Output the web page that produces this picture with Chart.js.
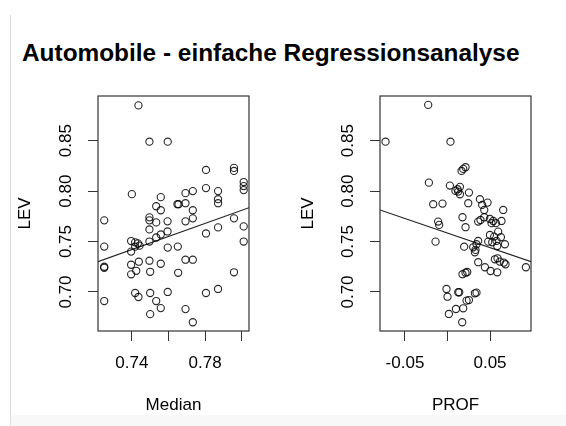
<!DOCTYPE html>
<html>
<head>
<meta charset="utf-8">
<script src="https://cdn.jsdelivr.net/npm/chart.js@4/dist/chart.umd.min.js"></script>
<style>
  html, body { margin: 0; padding: 0; background: #fff; }
  #wrap { position: relative; width: 566px; height: 426px; overflow: hidden; }
  #edge { position: absolute; left: 10px; top: 15px; width: 1px; height: 411px; background: #ddd; }
  #foot { position: absolute; left: 11px; top: 415px; width: 555px; height: 11px; background: #f8f8f8; }
  #title { position: absolute; left: 22px; top: 39px; font: bold 24.4px "Liberation Sans", Arial, sans-serif; line-height: 28px; color: #000; white-space: nowrap; }
  canvas { position: absolute; top: 0; }
</style>
</head>
<body>
<div id="wrap">
  <div id="edge"></div>
  <div id="foot"></div>
  <div id="title">Automobile - einfache Regressionsanalyse</div>
  <canvas id="leftChart" width="283" height="426" style="left:0"></canvas>
  <canvas id="rightChart" width="283" height="426" style="left:283px"></canvas>
</div>
<script>
// left panel: LEV against Median
const medianX = [0.7436,0.7496,0.7596,0.7805,0.7958,0.7958,0.7400,0.7805,0.8011,0.8011,
  0.8011,0.7871,0.7871,0.7871,0.7693,0.7733,0.7558,0.7533,0.7558,0.7649,
  0.7655,0.7693,0.7733,0.7733,0.7693,0.7496,0.7496,0.7533,0.7595,0.7249,
  0.7496,0.7595,0.7558,0.7533,0.7496,0.7805,0.7871,0.7958,0.8011,0.8011,
  0.7249,0.7396,0.7418,0.7433,0.7442,0.7418,0.7396,0.7596,0.7651,0.7249,
  0.7249,0.7396,0.7438,0.7424,0.7396,0.7496,0.7500,0.7558,0.7693,0.7733,
  0.7653,0.7958,0.7249,0.7418,0.7436,0.7500,0.7533,0.7596,0.7558,0.7500,
  0.7693,0.7733,0.7805,0.7871];
const levLeft = [0.885,0.849,0.849,0.821,0.823,0.820,0.797,0.803,0.809,0.805,
  0.801,0.800,0.792,0.788,0.798,0.800,0.794,0.785,0.781,0.787,
  0.787,0.788,0.781,0.773,0.770,0.774,0.771,0.769,0.770,0.771,
  0.762,0.760,0.757,0.754,0.750,0.758,0.764,0.773,0.765,0.750,
  0.745,0.7505,0.7492,0.7482,0.7459,0.7449,0.740,0.744,0.745,0.725,
  0.724,0.727,0.730,0.721,0.7175,0.731,0.720,0.728,0.732,0.732,
  0.719,0.7195,0.691,0.699,0.695,0.699,0.691,0.700,0.684,0.678,
  0.683,0.670,0.699,0.703];

// right panel: LEV against PROF
const profX = [-0.0227,-0.0729,0.0035,0.0212,0.0185,0.0165,-0.0219,0.0028,0.0146,0.0118,
  0.0094,0.0126,0.0146,0.0252,-0.0168,-0.0059,0.0244,0.0381,0.0408,0.0471,
  0.0655,0.0432,0.0176,-0.0110,-0.0098,0.0212,0.0361,0.0388,0.0432,0.0499,
  0.0538,0.0635,0.0518,0.0569,0.0596,0.0499,0.0549,0.0628,0.0577,0.0526,
  0.0479,0.0675,0.0585,-0.0141,0.0196,0.0361,0.0341,0.0302,0.0329,0.0322,
  0.0557,0.0588,0.0616,0.0663,0.0682,0.0361,0.0440,0.0506,0.0585,0.0922,
  0.0176,0.0212,0.0232,-0.0012,0.0000,0.0126,0.0138,0.0322,0.0341,0.0224,
  0.0252,0.0099,0.0185,0.0016,0.0173];
const levRight = [0.8855,0.849,0.849,0.8237,0.822,0.820,0.8084,0.8055,0.8042,0.8019,
  0.8002,0.7995,0.7969,0.7985,0.787,0.7876,0.788,0.792,0.7863,0.7886,
  0.7813,0.7813,0.7741,0.7698,0.7665,0.7642,0.7698,0.7714,0.7741,0.7724,
  0.7704,0.7704,0.7682,0.7682,0.7598,0.7565,0.7549,0.7543,0.7506,0.7493,
  0.7499,0.7473,0.7456,0.7499,0.7449,0.7506,0.7473,0.7443,0.7417,0.7394,
  0.7324,0.7334,0.7301,0.7291,0.7275,0.7295,0.7245,0.7208,0.7195,0.7245,
  0.7176,0.7191,0.7198,0.703,0.6953,0.6997,0.6997,0.6987,0.6993,0.6914,
  0.692,0.6831,0.6838,0.6782,0.670];

// fitted lines (intercept, slope)
const leftFit = [0.2622, 0.6485];
const rightFit = [0.7584, -0.2883];

// axis ticks and labels (R hides labels that would overlap)
const medianTicks = [0.74, 0.76, 0.78, 0.80];
const medianTickLabels = ["0.74", "", "0.78", ""];
const profTicks = [-0.05, 0.00, 0.05];
const profTickLabels = ["-0.05", "", "0.05"];
const levTicks = [0.70, 0.75, 0.80, 0.85];
const levTickLabels = ["0.70", "0.75", "0.80", "0.85"];

const medianRange = [0.7215, 0.804];
const profRange = [-0.0794, 0.0982];
const levRange = [0.6613, 0.8943];

Chart.defaults.font.family = '"Liberation Sans", Arial, sans-serif';
Chart.defaults.color = "#000";

const boxPlugin = {
  id: "box",
  afterDraw(chart) {
    const a = chart.chartArea;
    const ctx = chart.ctx;
    ctx.save();
    ctx.strokeStyle = "#333";
    ctx.lineWidth = 1.2;
    ctx.strokeRect(a.left, a.top, a.right - a.left, a.bottom - a.top);
    ctx.restore();
  },
};

function makePanel(id, xs, ys, fit, xRange, xTicks, xLabels, xTitle, yWidth, rightPad) {
  const pts = xs.map((x, i) => ({ x: x, y: ys[i] }));
  const line = xRange.map((x) => ({ x: x, y: fit[0] + fit[1] * x }));
  return new Chart(document.getElementById(id).getContext("2d"), {
    type: "scatter",
    data: {
      datasets: [
        {
          data: pts,
          pointStyle: "circle",
          pointRadius: 3.6,
          borderWidth: 1.1,
          borderColor: "rgba(0,0,0,0.85)",
          backgroundColor: "rgba(0,0,0,0)",
          clip: false,
        },
        {
          data: line,
          showLine: true,
          pointRadius: 0,
          borderWidth: 1.1,
          borderColor: "#222",
        },
      ],
    },
    plugins: [boxPlugin],
    options: {
      responsive: false,
      animation: false,
      devicePixelRatio: 1,
      layout: { padding: { top: 96, right: rightPad, left: 0, bottom: 0 } },
      plugins: { legend: { display: false }, tooltip: { enabled: false } },
      scales: {
        x: {
          type: "linear",
          min: xRange[0],
          max: xRange[1],
          afterBuildTicks: (s) => { s.ticks = xTicks.map((v) => ({ value: v })); },
          afterFit: (s) => { s.height = 95; },
          ticks: {
            autoSkip: false,
            maxRotation: 0,
            padding: 12,
            font: { size: 17 },
            callback: (v, i) => xLabels[i],
          },
          grid: { drawOnChartArea: false, tickLength: 10, color: "#333", tickWidth: 1 },
          border: { display: false },
          title: { display: true, text: xTitle, font: { size: 17 }, padding: { bottom: 10 } },
        },
        y: {
          type: "linear",
          min: levRange[0],
          max: levRange[1],
          afterBuildTicks: (s) => { s.ticks = levTicks.map((v) => ({ value: v })); },
          afterFit: (s) => { s.width = yWidth; },
          ticks: {
            autoSkip: false,
            minRotation: 90,
            maxRotation: 90,
            crossAlign: "center",
            padding: 5,
            font: { size: 17 },
            callback: (v, i) => levTickLabels[i],
          },
          grid: { drawOnChartArea: false, tickLength: 10, color: "#333", tickWidth: 1 },
          border: { display: false },
          title: { display: true, text: "LEV", font: { size: 17 }, padding: { top: 15 } },
        },
      },
    },
  });
}

makePanel("leftChart", medianX, levLeft, leftFit, medianRange, medianTicks, medianTickLabels, "Median", 98, 34);
makePanel("rightChart", profX, levRight, rightFit, profRange, profTicks, profTickLabels, "PROF", 97, 35);
</script>
</body>
</html>
